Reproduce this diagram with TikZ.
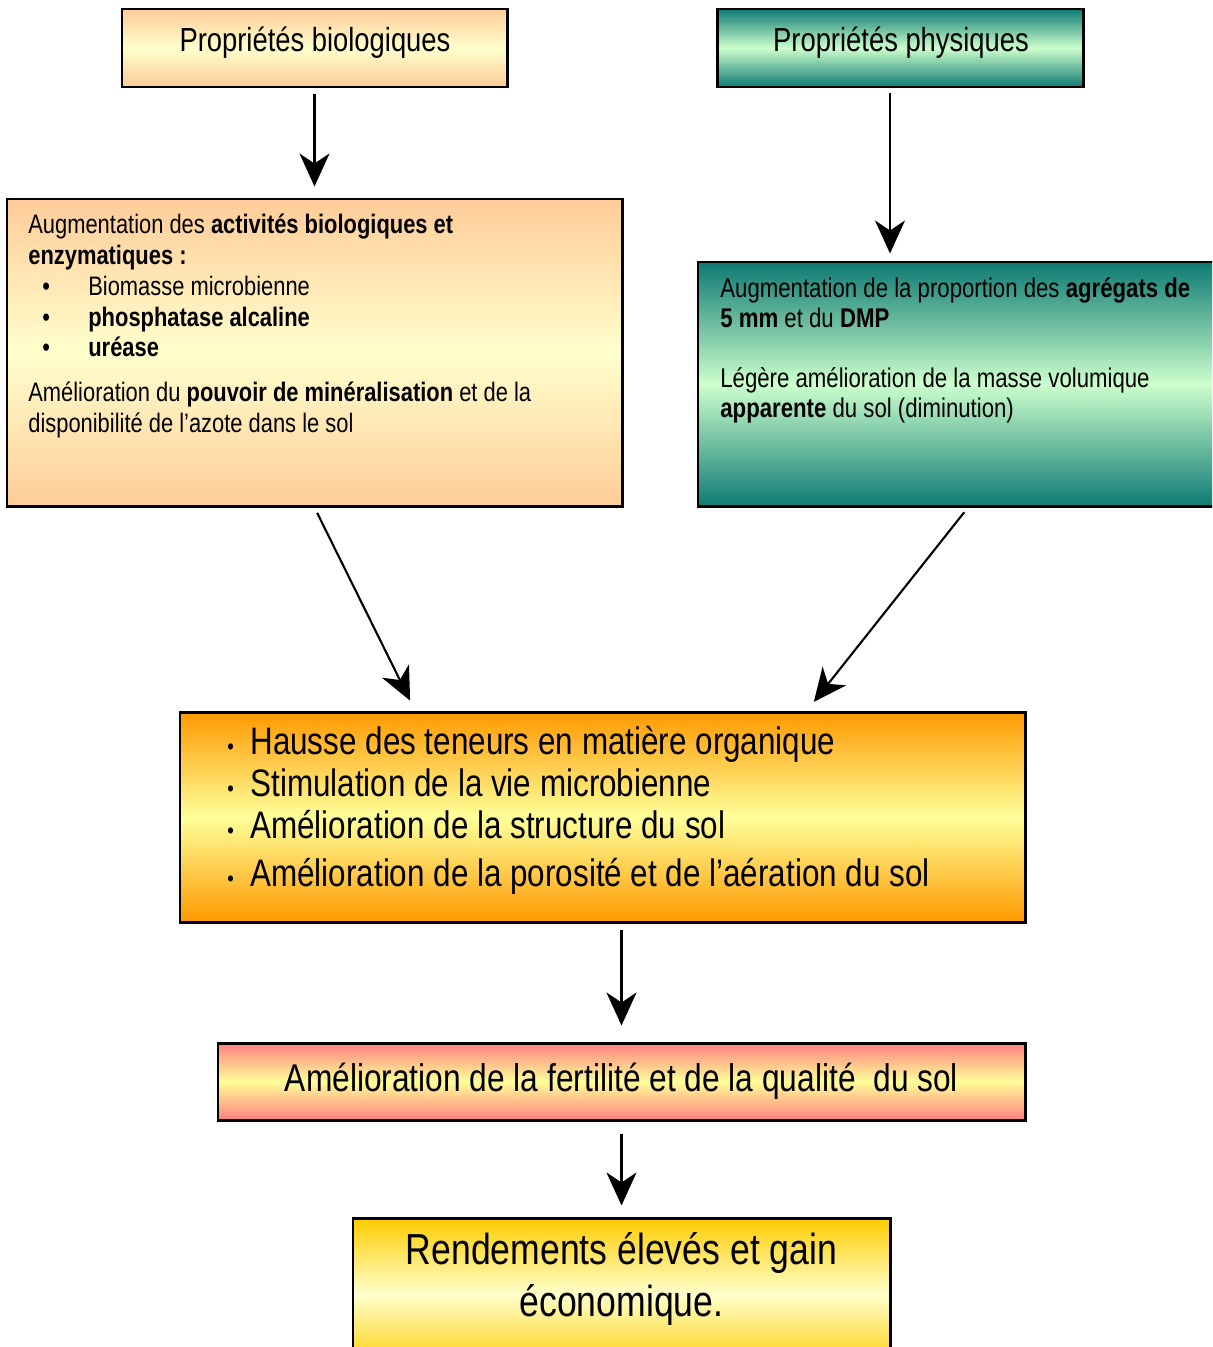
\documentclass[tikz,border=0pt]{standalone}
\usepackage{fontspec}
\setmainfont{Liberation Sans}[FakeStretch=0.82]
\usetikzlibrary{arrows.meta,positioning,calc}
\definecolor{peach}{HTML}{FFCC99}
\definecolor{cream}{HTML}{FFFFCC}
\definecolor{teal}{HTML}{0E7A74}
\definecolor{mint}{HTML}{CCFFCC}
\definecolor{orange}{HTML}{FF9900}
\definecolor{lemon}{HTML}{FFFF99}
\definecolor{salmon}{HTML}{FF7F7F}
\definecolor{gold}{HTML}{FFCC00}
\tikzset{
    block/.style = {draw, rectangle, line width=1.7pt, inner sep=0pt},
    biobox/.style = {block, top color=peach, bottom color=peach, middle color=cream},
    physbox/.style = {block, top color=teal, bottom color=teal, middle color=mint},
    mainbox/.style = {block, top color=orange, bottom color=orange, middle color=lemon},
    fertbox/.style = {block, top color=salmon, bottom color=salmon, middle color=lemon},
    goalbox/.style = {block, top color=gold, bottom color=gold, middle color=cream},
    txt/.style = {inner sep=0pt, align=left, anchor=north west},
    arrow/.style = {draw, line width=1.2pt, -{Stealth[length=6.6mm,width=6mm,inset=2mm]},
        shorten <=1.2mm, shorten >=2.2mm}
}
\newcommand{\puce}{\hspace*{2.8mm}\makebox[9.2mm][l]{\textbullet}}
\newcommand{\gpuce}{\makebox[4.6mm][l]{\fontsize{13pt}{13pt}\selectfont\textbullet}}

\begin{document}
\begin{tikzpicture}[x=0.2mm, y=-0.2mm]
    \useasboundingbox (0,0) rectangle (1212,1347);
    \clip (0,0) rectangle (1212,1347);
    \node [biobox, minimum width=77mm, minimum height=15.6mm] (bio) at (314.5,48) {};
    \node [physbox, minimum width=73.2mm, minimum height=15.6mm] (phys) at (900,48) {};
    \node [biobox, minimum width=123mm, minimum height=61.4mm] (bioD) at (314.5,352.5) {};
    \node [physbox, minimum width=106.4mm, minimum height=48.8mm] (physD) at (964,384) {};
    \node [mainbox, minimum width=169mm, minimum height=42mm] (centre) at (602.5,817) {};
    \node [fertbox, minimum width=161.4mm, minimum height=15.4mm] (fert) at (621.5,1081.5) {};
    \node [goalbox, minimum width=107.4mm, minimum height=30.4mm] (goal) at (621.5,1294) {};

    \node [font=\fontsize{19pt}{22pt}\selectfont] (bioT) at (315,43) {Propriétés biologiques};
    \node [font=\fontsize{19pt}{22pt}\selectfont] (physT) at (901,43) {Propriétés physiques};
    \node [txt, font=\fontsize{15.2pt}{17.5pt}\selectfont] (bioL) at (28,214) {%
        Augmentation des \textbf{activités biologiques et}\\
        \textbf{enzymatiques :}\\
        \puce Biomasse microbienne\\
        \puce\textbf{phosphatase alcaline}\\
        \puce\textbf{uréase}\\[8pt]
        Amélioration du \textbf{pouvoir de minéralisation} et de la\\
        disponibilité de l’azote dans le sol};
    \node [txt, font=\fontsize{15.4pt}{17.2pt}\selectfont] (physL) at (720,277) {%
        Augmentation de la proportion des \textbf{agrégats de}\\
        \textbf{5 mm} et du \textbf{DMP}\\[17pt]
        Légère amélioration de la masse volumique\\
        \textbf{apparente} du sol (diminution)};
    \node [txt, font=\fontsize{21.8pt}{24pt}\selectfont] (centreL) at (227,726) {%
        \gpuce Hausse des teneurs en matière organique\\
        \gpuce Stimulation de la vie microbienne\\
        \gpuce Amélioration de la structure du sol\\[3pt]
        \gpuce Amélioration de la porosité et de l’aération du sol};
    \node [font=\fontsize{22pt}{24pt}\selectfont] (fertT) at (621.5,1081) {Amélioration de la fertilité et de la qualité~ du sol};
    \node [align=center, inner sep=0pt, font=\fontsize{24.7pt}{30pt}\selectfont] (goalT) at (621.5,1279) {Rendements élevés et gain\\ économique.};

    \draw [arrow] (bio) -- (bioD);
    \draw [arrow, shorten <=1mm, shorten >=1.4mm] ([xshift=-2mm]phys.south) -- ([xshift=-2mm]phys.south |- physD.north);
    \draw [arrow] (bioD.south) -- ([xshift=-37.5mm]centre.north);
    \draw [arrow] ([xshift=0.8mm]physD.south) -- ([xshift=40.9mm]centre.north);
    \draw [arrow, shorten >=3.2mm] (fert.north |- centre.south) -- (fert.north);
    \draw [arrow, shorten <=2.4mm] (fert) -- (goal);
\end{tikzpicture}
\end{document}
